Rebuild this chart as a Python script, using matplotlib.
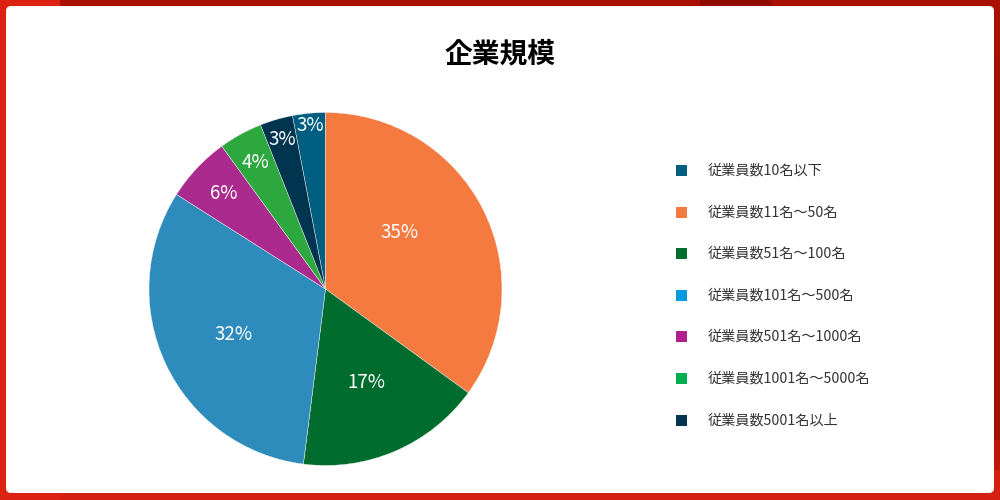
import numpy as np
import matplotlib
matplotlib.use("Agg")
import matplotlib.pyplot as plt
from matplotlib.patches import FancyBboxPatch, Rectangle, Polygon

plt.rcParams['font.family'] = ['Noto Sans CJK JP', 'DejaVu Sans']

# data
categories = ['従業員数10名以下', '従業員数11名～50名', '従業員数51名～100名',
              '従業員数101名～500名', '従業員数501名～1000名',
              '従業員数1001名～5000名', '従業員数5001名以上']
shares = [3, 35, 17, 32, 6, 4, 3]
slice_colors = ['#005f80', '#f47a40', '#006c2d', '#2e8cbd', '#aa2a8e', '#2ca83f', '#00344f']
legend_colors = ['#005f80', '#f47a40', '#006c2d', '#009bde', '#b0208d', '#00b04f', '#00344f']

# label placement (fraction of radius, angle tweak in degrees)
label_dist = [0.93, 0.53, 0.58, 0.58, 0.79, 0.82, 0.88]
label_tweak = [0, 10.5, 0, 1.0, 0, 0, 0]

fig = plt.figure(figsize=(10, 5), dpi=100)
fig.patch.set_facecolor('#c0150a')

ax = fig.add_axes([0, 0, 1, 1])
ax.set_xlim(0, 1000)
ax.set_ylim(0, 500)
ax.axis('off')

# red frame shading
ax.add_patch(Polygon([(0, 0), (0, 500), (60, 500), (60, 0)], closed=True,
                     facecolor='#dc2312', edgecolor='none', zorder=0))
ax.add_patch(Polygon([(60, 500), (1000, 500), (1000, 440), (60, 440)], closed=True,
                     facecolor='#aa1000', edgecolor='none', zorder=0))
ax.add_patch(Polygon([(700, 500), (770, 500), (790, 470), (700, 470)], closed=True,
                     facecolor='#8f0a00', edgecolor='none', zorder=0))
ax.add_patch(Polygon([(940, 60), (1000, 60), (1000, 440), (940, 440)], closed=True,
                     facecolor='#a50f03', edgecolor='none', zorder=0))
ax.add_patch(Polygon([(60, 0), (1000, 0), (1000, 30), (60, 30)], closed=True,
                     facecolor='#d42010', edgecolor='none', zorder=0))

# white card
ax.add_patch(FancyBboxPatch((6, 7), 988, 487, boxstyle='round,pad=0,rounding_size=5',
                            facecolor='white', edgecolor='none', zorder=1))

# pie
cx, cy, r = 325.5, 211, 176.5
total = sum(shares)
start = 90 + shares[0] / total * 360
wedges, _ = ax.pie(shares, colors=slice_colors, startangle=start, counterclock=False,
                   center=(cx, cy), radius=r, frame=True,
                   wedgeprops=dict(edgecolor='#f4f4f4', linewidth=0.3))
for w in wedges:
    w.set_zorder(2)
ax.set_xlim(0, 1000)
ax.set_ylim(0, 500)
ax.set_aspect('equal')
ax.axis('off')

cum = 0
for i, v in enumerate(shares):
    mid = start - (cum + v / 2) / total * 360 + label_tweak[i]
    cum += v
    a = np.deg2rad(mid)
    d = label_dist[i] * r
    ax.text(cx + d * np.cos(a), cy + d * np.sin(a), f'{v}%', color='white',
            fontsize=13.5, ha='center', va='center', zorder=3)

# title
ax.text(500, 446, '企業規模', fontsize=20, fontweight='bold', ha='center',
        va='center', color='black', zorder=3)

# legend
for i, (lab, col) in enumerate(zip(categories, legend_colors)):
    y = 500 - (170.5 + i * 41.6)
    ax.add_patch(Rectangle((676, y - 5.5), 11, 11, facecolor=col, edgecolor='none', zorder=3))
    ax.text(708, y, lab, fontsize=10.2, color='#333333', ha='left', va='center', zorder=3)

fig.savefig('out.png', dpi=100)
